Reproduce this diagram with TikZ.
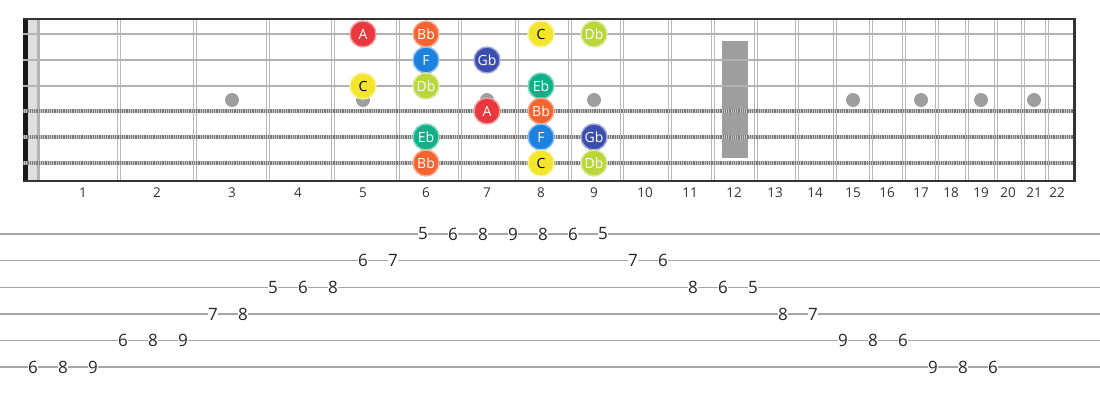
\documentclass[tikz,border=0pt]{standalone}
\usepackage{fontspec}
\setmainfont{Open Sans}
\definecolor{notea}{HTML}{E8383D}
\definecolor{notebb}{HTML}{F26430}
\definecolor{notec}{HTML}{F2E52C}
\definecolor{notedb}{HTML}{B9D63A}
\definecolor{noteeb}{HTML}{13B088}
\definecolor{notef}{HTML}{1C82DE}
\definecolor{notegb}{HTML}{3B4DAE}
\begin{document}
\begin{tikzpicture}[x=1pt,y=-1pt,
  note/.style={circle,minimum size=26pt,inner sep=0pt,line width=1.4pt,
    fill=#1,draw=#1!50!white,font=\fontsize{14}{14}\selectfont},
  fretnum/.style={font=\fontsize{13.5}{13.5}\selectfont,text=black!80},
  tabnum/.style={fill=white,inner sep=0.6pt,font=\fontsize{17}{17}\selectfont,text=black!85},
  fretwire/.style={line width=1.3pt,black!28},
  plainstring/.style={line width=2.8pt,black!30},
  woundbase/.style={line width=3.6pt,black!22},
  woundwrap/.style={line width=3.6pt,black!52,dash pattern=on 0.9pt off 0.9pt},
  tabline/.style={line width=1.6pt,black!35}]
  \useasboundingbox (0,0) rectangle (1100,400);

  % 弦の位置
  \foreach \s/\y in {1/34,2/60,3/86,4/111,5/137,6/163}
    \coordinate (s\s) at (0,\y);

  % ナット
  \fill[black!90] (23,19) rectangle (28,181);
  \fill[black!13] (28,20) rectangle (37,180);
  \fill[black!30] (37,20) rectangle (40,180);

  % フレットと番号
  \foreach \n/\f/\c in {1/119/83,2/195/157,3/268/232,4/333/298,5/398/363,
      6/460/426,7/517/487,8/570/541,9/622/594,10/670/645,11/713/690,
      12/756/734,13/797/775,14/835/815,15/871/853,16/904/887,17/937/921,
      18/967/951,19/996/981,20/1023/1008,21/1047/1034,22/1074/1057} {
    \coordinate (f\n) at (\c,0);
    \ifnum\n<22
      \draw[fretwire] (\f-1.7,20) -- (\f-1.7,180);
      \draw[fretwire] (\f+1.7,20) -- (\f+1.7,180);
    \fi
    \node[fretnum] (fn\n) at (\c,193) {\n};
  }

  % ポジションマーク
  \foreach \n in {3,5,7,9,15,17,19,21}
    \fill[black!38] (f\n |- 0,100) circle (7);
  \fill[black!38] (722,41) rectangle (748,158);

  % 弦
  \foreach \s in {1,2,3}
    \draw[plainstring] (s\s -| 23,0) -- (s\s -| 1074,0);
  \foreach \s in {4,5,6} {
    \draw[woundbase] (s\s -| 23,0) -- (s\s -| 1074,0);
    \draw[woundwrap] (s\s -| 23,0) -- (s\s -| 1074,0);
  }

  % 枠
  \draw[line width=2pt,black!80] (23,19) -- (1074,19);
  \draw[line width=2pt,black!80] (23,181) -- (1074,181);
  \draw[line width=3pt,black!80] (1074,18) -- (1074,182);

  % 音名
  \foreach \s/\f/\t/\c/\k in {1/5/A/notea/white,1/6/Bb/notebb/white,
      1/8/C/notec/black,1/9/Db/notedb/white,2/6/F/notef/white,
      2/7/Gb/notegb/white,3/5/C/notec/black,3/6/Db/notedb/white,
      3/8/Eb/noteeb/white,4/7/A/notea/white,4/8/Bb/notebb/white,
      5/6/Eb/noteeb/white,5/8/F/notef/white,5/9/Gb/notegb/white,
      6/6/Bb/notebb/white,6/8/C/notec/black,6/9/Db/notedb/white}
    \node[note=\c,text=\k] (n\s-\f) at (f\f |- s\s) {\t};

  % タブ譜の線
  \foreach \l in {1,...,6}
    \draw[tabline] (0,{234+26.65*(\l-1)}) coordinate (l\l) -- (1100,{234+26.65*(\l-1)});

  % タブ譜の数字
  \foreach \l/\f [count=\k from 0] in {6/6,6/8,6/9,5/6,5/8,5/9,4/7,4/8,
      3/5,3/6,3/8,2/6,2/7,1/5,1/6,1/8,1/9,1/8,1/6,1/5,2/7,2/6,3/8,3/6,
      3/5,4/8,4/7,5/9,5/8,5/6,6/9,6/8,6/6}
    \node[tabnum] (t\k) at ({33+30*\k},{234+26.65*(\l-1)}) {\f};
\end{tikzpicture}
\end{document}
